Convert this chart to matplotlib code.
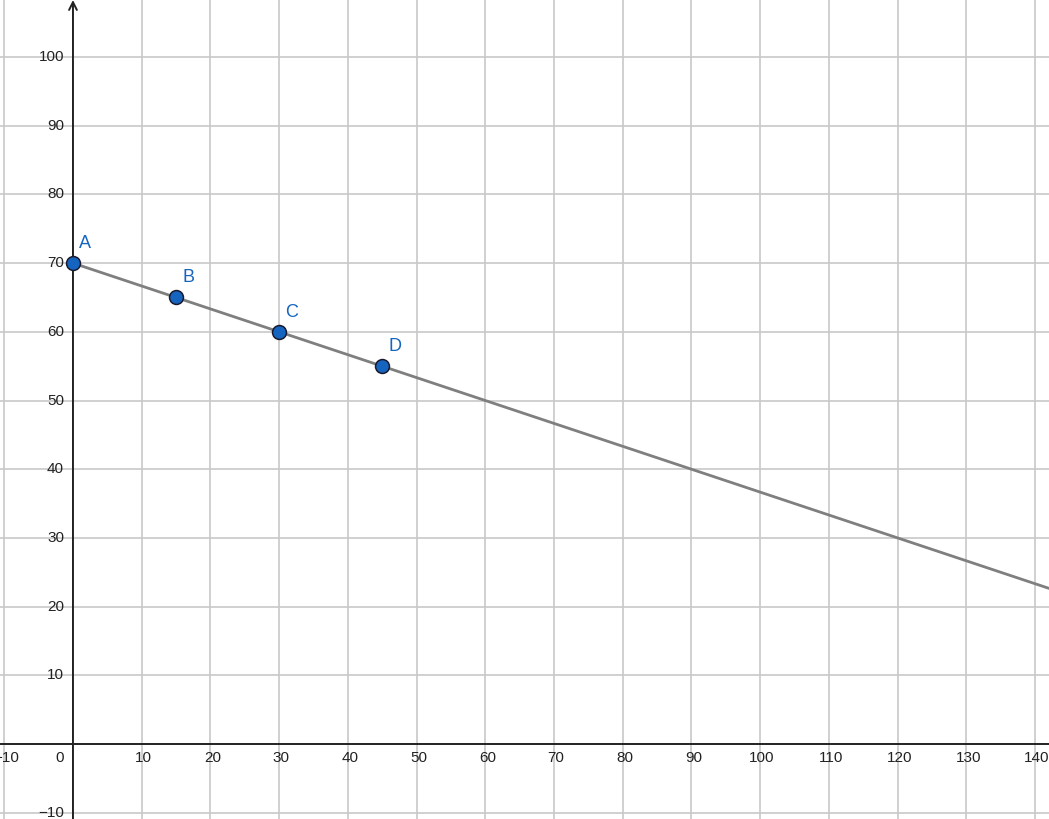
import matplotlib
matplotlib.use("Agg")
import matplotlib.pyplot as plt
import matplotlib.transforms as mtransforms

# datos
point_names = ["A", "B", "C", "D"]
point_x = [0, 15, 30, 45]
point_y = [70, 65, 60, 55]
line_x = [0, 145]
line_y = [70, 70 - 145 / 3]
x_ticks = list(range(-10, 141, 10))
y_ticks = list(range(-10, 101, 10))

plt.rcParams["font.family"] = ["Liberation Sans", "DejaVu Sans"]

fig = plt.figure(figsize=(10.49, 8.19), dpi=100)
ax = fig.add_axes([0, 0, 1, 1])
ax.set_xlim(-10.62, 142.04)
ax.set_ylim(-10.92, 108.3)
ax.axis("off")

# rejilla
for xv in x_ticks:
    if xv != 0:
        ax.axvline(xv, color="#c8c8c8", lw=1.2, zorder=0)
for yv in y_ticks:
    if yv != 0:
        ax.axhline(yv, color="#c8c8c8", lw=1.2, zorder=0)

# ejes
ax.axhline(0, color="#222222", lw=1.4, zorder=1)
ax.annotate("", xy=(0, 108.3), xytext=(0, -10.92),
            arrowprops=dict(arrowstyle="->", color="#222222", lw=1.4,
                            mutation_scale=14, shrinkA=0, shrinkB=0),
            zorder=1)

# etiquetas de los ejes
dx = mtransforms.offset_copy(ax.transData, fig=fig, x=2, y=-14, units="dots")
for xv in x_ticks:
    if xv == 0:
        continue
    ax.text(xv, 0, str(xv).replace("-", "\u2212"), transform=dx, ha="center",
            va="center", fontsize=11, color="#222222")
d0 = mtransforms.offset_copy(ax.transData, fig=fig, x=-13, y=-14, units="dots")
ax.text(0, 0, "0", transform=d0, ha="center", va="center", fontsize=11, color="#222222")
dy = mtransforms.offset_copy(ax.transData, fig=fig, x=-9, y=0, units="dots")
for yv in y_ticks:
    if yv == 0:
        continue
    ax.text(0, yv, str(yv).replace("-", "\u2212"), transform=dy, ha="right",
            va="center", fontsize=11, color="#222222")

# recta y puntos
ax.plot(line_x, line_y, color="#7f7f7f", lw=2.0, zorder=2, solid_capstyle="butt")
ax.plot(point_x, point_y, "o", ms=10, mfc="#1565c0", mec="#1a1a2e", mew=1.1, zorder=3)
dl = mtransforms.offset_copy(ax.transData, fig=fig, x=6, y=11, units="dots")
for n, px, py in zip(point_names, point_x, point_y):
    ax.text(px, py, n, transform=dl, ha="left", va="bottom", fontsize=13, color="#1565c0")

fig.savefig("out.png", dpi=100)
